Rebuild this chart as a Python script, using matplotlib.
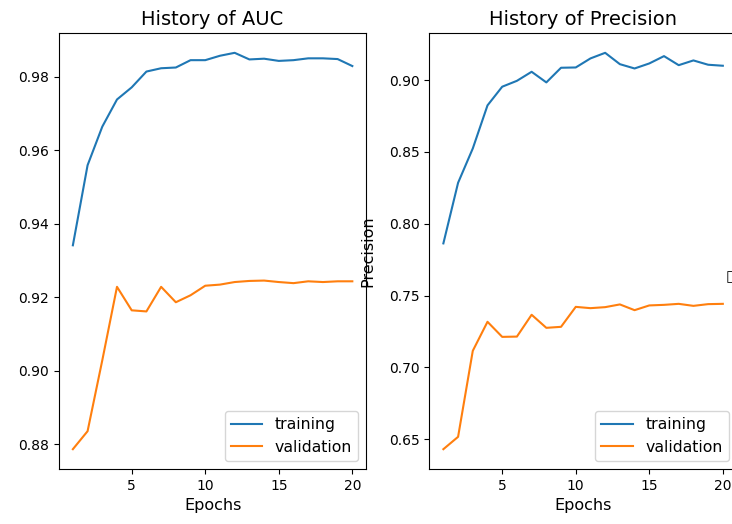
import matplotlib
matplotlib.use("Agg")
from matplotlib import pyplot as plt

# training history
epochs = list(range(1, 21))

auc_train = [0.9341, 0.9559, 0.9664, 0.9738, 0.9771, 0.9814, 0.9823, 0.9825, 0.9845, 0.9845,
             0.9857, 0.9865, 0.9847, 0.9849, 0.9843, 0.9845, 0.9850, 0.9850, 0.9848, 0.9829]
auc_val = [0.8786, 0.8835, 0.9028, 0.9228, 0.9164, 0.9161, 0.9228, 0.9186, 0.9205, 0.9231,
           0.9234, 0.9241, 0.9244, 0.9245, 0.9241, 0.9238, 0.9243, 0.9241, 0.9243, 0.9243]

prec_train = [0.7863, 0.8285, 0.8524, 0.8824, 0.8954, 0.8995, 0.9058, 0.8984, 0.9086, 0.9088,
              0.9151, 0.9190, 0.9111, 0.9081, 0.9116, 0.9167, 0.9104, 0.9137, 0.9107, 0.9100]
prec_val = [0.6430, 0.6516, 0.7115, 0.7317, 0.7212, 0.7214, 0.7366, 0.7275, 0.7282, 0.7421,
            0.7412, 0.7419, 0.7438, 0.7398, 0.7431, 0.7435, 0.7442, 0.7428, 0.7440, 0.7442]

W, H = 732, 524
fig = plt.figure(figsize=(W / 100, H / 100), dpi=100)

# axes placed in pixels; the picture is a crop of a wider row of plots
def px_axes(left):
    return fig.add_axes([left / W, (H - 469) / H, 307.4 / W, 436 / H])

ax1 = px_axes(58.9)
ax1.plot(epochs, auc_train, label='training')
ax1.plot(epochs, auc_val, label='validation')
ax1.set_title('History of AUC', fontsize=14)
ax1.set_xlabel('Epochs', fontsize=11.5)
ax1.legend(loc='lower right', fontsize=11.3)

ax2 = px_axes(429.4)
ax2.plot(epochs, prec_train, label='training')
ax2.plot(epochs, prec_val, label='validation')
ax2.set_title('History of Precision', fontsize=14)
ax2.set_xlabel('Epochs', fontsize=11.5)
ax2.set_ylabel('Precision', fontsize=11.5, labelpad=10)
ax2.legend(loc='lower right', fontsize=11.3)

# edge of the next plot's label, clipped by the crop
fig.text(726 / W, 1 - 277 / H, '\u25a1', fontsize=11, ha='left', va='center')

fig.savefig('out.png', dpi=100)
